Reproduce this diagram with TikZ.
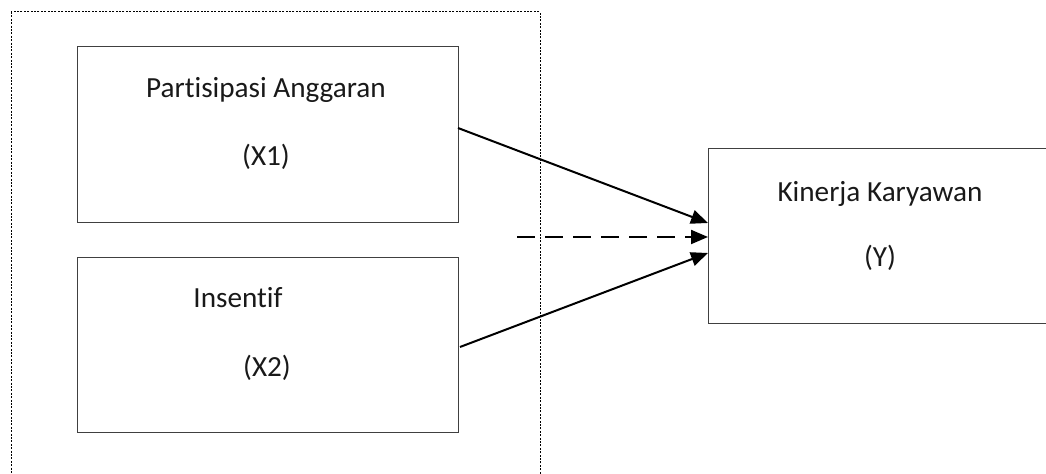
\documentclass[tikz,border=0pt]{standalone}
\usepackage{fontspec}
\setmainfont{Carlito}[RawFeature={-liga;-clig;-dlig}]
\usetikzlibrary{arrows.meta}
\begin{document}
\begin{tikzpicture}[x=0.5pt,y=-0.5pt,
  box/.style={draw=black!75,line width=0.5pt},
  lbl/.style={inner sep=0pt,font=\fontsize{14.6pt}{17pt}\selectfont,text=black!90},
  arr/.style={line width=1pt,-{Triangle[length=8.5pt,width=7pt]}}]
\useasboundingbox (0,0) rectangle (1046,474);
\clip (0,0) rectangle (1046,474);
% outer dotted frame
\draw[dash pattern=on 1pt off 0.7pt,line width=0.5pt] (11,12) rectangle (540,490);
% boxes
\draw[box] (77,47) rectangle (458,223);
\draw[box] (77,258) rectangle (458,433);
\draw[box] (708,149) rectangle (1060,324);
\node[lbl] (t1) at (266,90) {Partisipasi Anggaran};
\node[lbl] (t1b) at (266,157) {(X1)};
\node[lbl] (t2) at (238,298) {Insentif};
\node[lbl] (t2b) at (267,368) {(X2)};
\node[lbl] (ty) at (880,194) {Kinerja Karyawan};
\node[lbl] (tyb) at (880,258) {(Y)};
% connector points
\coordinate (a1) at (458,128);
\coordinate (b1) at (708,223);
\coordinate (a2) at (517,237);
\coordinate (b2) at (708,237);
\coordinate (a3) at (460,347);
\coordinate (b3) at (708,253);
\draw[arr] (a1) -- (b1);
\draw[arr,dash pattern=on 9pt off 5pt] (a2) -- (b2);
\draw[arr] (a3) -- (b3);
\end{tikzpicture}
\end{document}
